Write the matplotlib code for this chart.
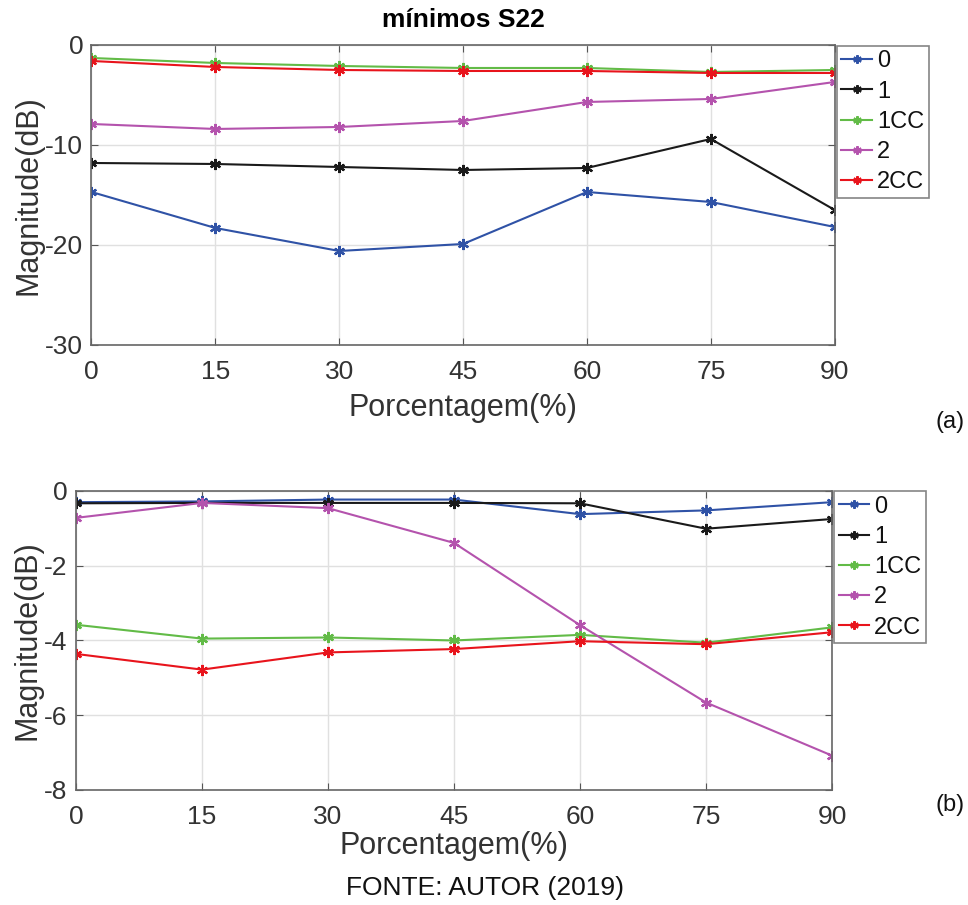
import numpy as np
import matplotlib
matplotlib.use("Agg")
import matplotlib.pyplot as plt

plt.rcParams['font.family'] = ['Liberation Sans', 'DejaVu Sans']
plt.rcParams['axes.unicode_minus'] = False

porcentagem = [0, 15, 30, 45, 60, 75, 90]
labels = ['0', '1', '1CC', '2', '2CC']
colors = ['#2f52a6', '#1a1a1a', '#62bb47', '#b453ad', '#e8141c']

# (a) minimos S22 - top panel
s22_a_0 = [-14.7, -18.3, -20.6, -19.9, -14.7, -15.7, -18.2]
s22_a_1 = [-11.8, -11.9, -12.2, -12.5, -12.3, -9.4, -16.5]
s22_a_1cc = [-1.3, -1.8, -2.1, -2.3, -2.3, -2.7, -2.5]
s22_a_2 = [-7.9, -8.4, -8.2, -7.6, -5.7, -5.4, -3.7]
s22_a_2cc = [-1.6, -2.2, -2.5, -2.6, -2.6, -2.8, -2.8]

# (b) bottom panel
s22_b_0 = [-0.30, -0.28, -0.23, -0.23, -0.62, -0.52, -0.30]
s22_b_1 = [-0.33, -0.32, -0.32, -0.32, -0.33, -1.01, -0.75]
s22_b_1cc = [-3.58, -3.95, -3.92, -4.00, -3.85, -4.06, -3.65]
s22_b_2 = [-0.72, -0.32, -0.46, -1.39, -3.59, -5.66, -7.08]
s22_b_2cc = [-4.36, -4.78, -4.32, -4.23, -4.02, -4.10, -3.78]

txt = '#333333'
asterisk = (6, 2, 0)
fig = plt.figure(figsize=(9.68, 9.05), dpi=100)


def style_axes(ax, yticks, xlabelpad):
    ax.set_xlim(0, 90)
    ax.set_xticks(porcentagem)
    ax.set_yticks(yticks)
    ax.set_ylim(yticks[0], yticks[-1])
    ax.grid(True, color='#e0e0e0', linewidth=1.0)
    ax.set_axisbelow(True)
    ax.tick_params(direction='in', top=True, right=True, length=5,
                   labelsize=19, colors='#555555', labelcolor=txt)
    ax.tick_params(axis='x', pad=11)
    ax.tick_params(axis='y', pad=6)
    for sp in ax.spines.values():
        sp.set_color('#666666')
        sp.set_linewidth(1.2)
    ax.set_xlabel('Porcentagem(%)', fontsize=22, color=txt, labelpad=xlabelpad)
    ax.set_ylabel('Magnitude(dB)', fontsize=22, color=txt, labelpad=1)


def draw(ax, series, anchor):
    for vals, lab, c in zip(series, labels, colors):
        ax.plot(porcentagem, vals, color=c, marker=asterisk, markersize=8,
                markeredgewidth=1.6, linewidth=1.5, label=lab)
    leg = ax.legend(loc='upper left', bbox_to_anchor=anchor,
                    bbox_transform=fig.transFigure, fontsize=17,
                    frameon=True, fancybox=False, edgecolor='#666666',
                    handlelength=1.3, handletextpad=0.2, labelspacing=0.35,
                    borderpad=0.2, borderaxespad=0, markerscale=0.75)
    leg.get_frame().set_linewidth(1.2)
    for t in leg.get_texts():
        t.set_color('#111111')


ax1 = fig.add_axes([0.0945, 0.6188, 0.7678, 0.3315])
draw(ax1, [s22_a_0, s22_a_1, s22_a_1cc, s22_a_2, s22_a_2cc], (0.8644, 0.9495))
style_axes(ax1, [-30, -20, -10, 0], 6)
ax1.set_title('mínimos S22', fontsize=19, fontweight='bold', pad=13)

ax2 = fig.add_axes([0.0785, 0.1271, 0.781, 0.3304])
draw(ax2, [s22_b_0, s22_b_1, s22_b_1cc, s22_b_2, s22_b_2cc], (0.8616, 0.4575))
style_axes(ax2, [-8, -6, -4, -2, 0], 1)

fig.text(0.997, 0.534, '(a)', fontsize=17, ha='right', va='center', color='#111111')
fig.text(0.997, 0.110, '(b)', fontsize=17, ha='right', va='center', color='#111111')
fig.text(0.501, 0.019, 'FONTE: AUTOR (2019)', fontsize=19, ha='center',
         va='center', color='#111111')

fig.savefig('out.png', dpi=100)
